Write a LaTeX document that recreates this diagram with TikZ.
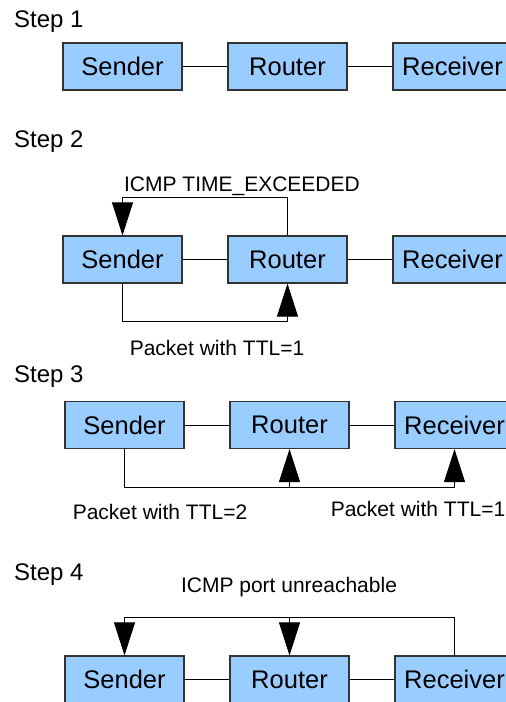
\documentclass[tikz,border=0pt]{standalone}
\usepackage{fontspec}
\setmainfont{Liberation Sans}
\usetikzlibrary{arrows.meta,calc}
\definecolor{boxfill}{HTML}{99CCFF}
\definecolor{boxline}{HTML}{333333}
\tikzset{
  hostbox/.style={draw=boxline, line width=1.2pt, fill=boxfill,
    minimum width=119pt, minimum height=47pt, inner sep=0pt,
    font=\fontsize{25.5}{30}\selectfont},
  link/.style={draw=black, line width=0.9pt},
  flow/.style={link, -{Triangle[width=21pt,length=33pt]}},
  steplabel/.style={anchor=base west, inner sep=0pt, font=\fontsize{24}{28}\selectfont},
  msg/.style={anchor=base, inner sep=0pt, font=\fontsize{21}{25}\selectfont}
}
\begin{document}
\begin{tikzpicture}[x=1pt,y=1pt]
\useasboundingbox (0,0) rectangle (506,-702);
\clip (0,0) rectangle (506,-702);
\fill[white] (0,0) rectangle (506,-702);

% ---- Step 1 ----
\node[steplabel] (l1) at (14,-27) {Step 1};
\node[hostbox] (s1) at (122.5,-66.5) {Sender};
\node[hostbox] (r1) at (287.5,-66.5) {Router};
\node[hostbox] (v1) at (452.5,-66.5) {Receiver};
\draw[link] (s1) -- (r1);
\draw[link] (r1) -- (v1);

% ---- Step 2 ----
\node[steplabel] (l2) at (14,-147) {Step 2};
\node[hostbox] (s2) at (122.5,-259.5) {Sender};
\node[hostbox] (r2) at (287.5,-259.5) {Router};
\node[hostbox] (v2) at (452.5,-259.5) {Receiver};
\draw[link] (s2) -- (r2);
\draw[link] (r2) -- (v2);
\draw[flow] (r2.north) -- ++(0,38) -| (s2.north);
\draw[flow] (s2.south) -- ++(0,-38) -| (r2.south);
\node[msg] (m2a) at (242,-191) {ICMP TIME\_EXCEEDED};
\node[msg] (m2b) at (217,-355) {Packet with TTL=1};

% ---- Step 3 ----
\node[steplabel] (l3) at (14,-382) {Step 3};
\node[hostbox] (s3) at (124.5,-425) {Sender};
\node[hostbox] (r3) at (289.5,-425) {Router};
\node[hostbox] (v3) at (454.5,-425) {Receiver};
\draw[link] (s3) -- (r3);
\draw[link] (r3) -- (v3);
\draw[flow] (s3.south) -- ++(0,-38) coordinate (b3) -| (v3.south);
\draw[flow] (r3.south |- b3) -- (r3.south);
\node[msg] (m3a) at (160,-519) {Packet with TTL=2};
\node[msg] (m3b) at (418,-516) {Packet with TTL=1};

% ---- Step 4 ----
\node[steplabel] (l4) at (14,-580) {Step 4};
\node[hostbox] (s4) at (124.5,-679.5) {Sender};
\node[hostbox] (r4) at (289.5,-679.5) {Router};
\node[hostbox] (v4) at (454.5,-679.5) {Receiver};
\draw[link] (s4) -- (r4);
\draw[link] (r4) -- (v4);
\draw[flow] (v4.north) -- ++(0,38) coordinate (t4) -| (s4.north);
\draw[flow] (r4.north |- t4) -- (r4.north);
\node[msg] (m4) at (289,-592) {ICMP port unreachable};
\end{tikzpicture}
\end{document}
